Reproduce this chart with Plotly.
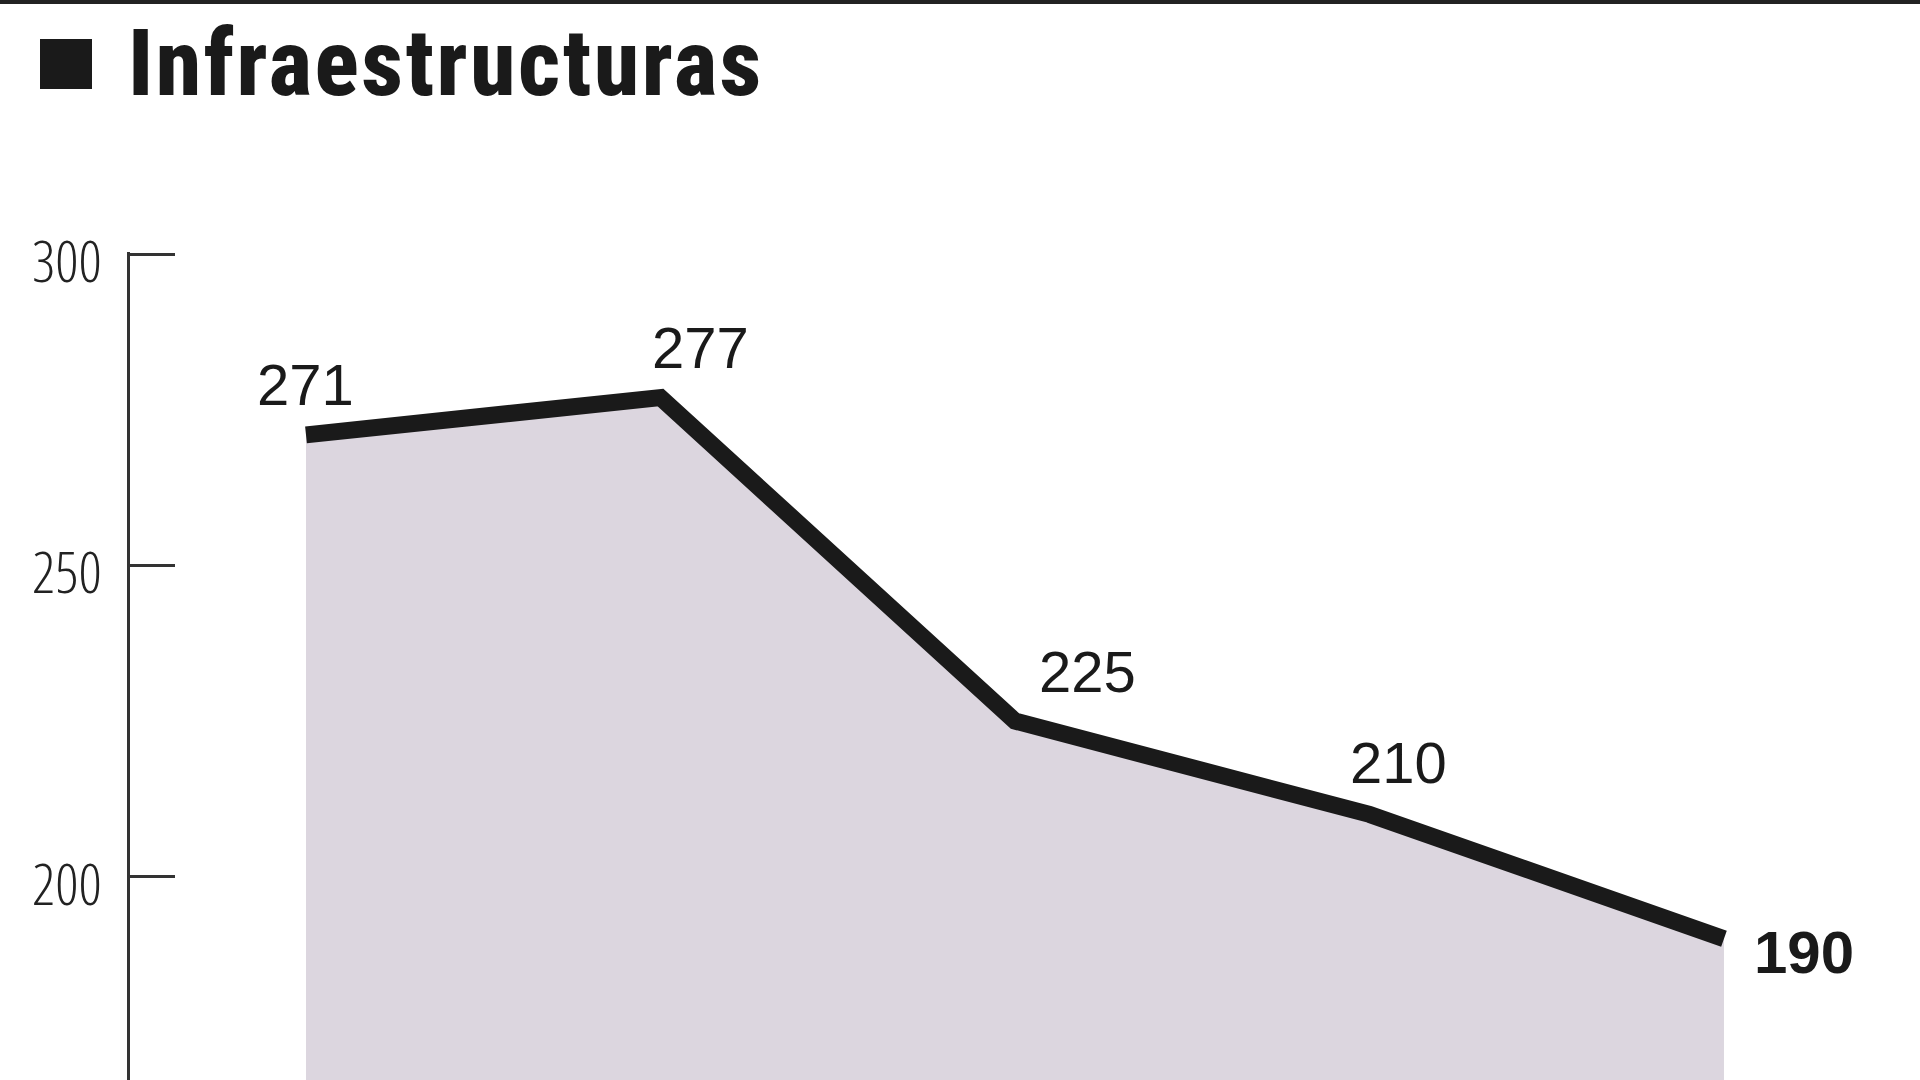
import plotly.graph_objects as go

# ---- data ----
periodos = [0, 1, 2, 3, 4]
valores = [271, 277, 225, 210, 190]
etiquetas = ["271", "277", "225", "210", "190"]
ticks_y = [200, 250, 300]
ticks_y_text = ["200", "250", "300"]
titulo = "Infraestructuras"

# ---- layout constants ----
W, H = 1920, 1080
ML, MR, MT, MB = 130, 0, 252, 0
PW, PH = W - ML - MR, H - MT - MB

def px_x(p):
    return (p - ML) / PW

def px_y(p):
    return 1 - (p - MT) / PH

INK = "#1a1a1a"
FILL = "#DCD6DF"

def condensed(t, stretch="75%", weight=None, spacing=None):
    st = f"font-stretch:{stretch}"
    if weight:
        st += f";font-weight:{weight}"
    if spacing:
        st += f";letter-spacing:{spacing}"
    return f"<span style='{st}'>{t}</span>"

fig = go.Figure()
fig.add_trace(go.Scatter(
    x=periodos, y=valores, mode="lines",
    line=dict(color=INK, width=17),
    fill="tozeroy", fillcolor=FILL,
    hoverinfo="skip", showlegend=False, cliponaxis=False,
))

# value labels: offsets (dx, dy) in pixels
offsets = [(-1, 50), (40, 50), (73, 50), (29, 52)]
for i, (xv, yv, t) in enumerate(zip(periodos, valores, etiquetas)):
    if i < len(valores) - 1:
        dx, dy = offsets[i]
        fig.add_annotation(x=xv, y=yv, text=t, showarrow=False,
                           xshift=dx, yshift=dy,
                           font=dict(family="Liberation Sans", size=58, color=INK))
    else:
        fig.add_annotation(x=xv, y=yv, text="<b>" + t + "</b>", showarrow=False,
                           xanchor="left", xshift=28, yshift=-14,
                           font=dict(family="Liberation Sans", size=60, color=INK))

# title
fig.add_annotation(xref="paper", yref="paper", x=px_x(126), y=px_y(64),
                   xanchor="left", yanchor="middle", showarrow=False,
                   text=condensed(titulo, "condensed", 800, "2.5px"),
                   font=dict(family="Roboto", size=92, color=INK))

# title square marker and top rule
fig.add_shape(type="rect", xref="paper", yref="paper",
              x0=px_x(40), x1=px_x(92), y0=px_y(89), y1=px_y(39),
              fillcolor=INK, line=dict(width=0))
fig.add_shape(type="rect", xref="paper", yref="paper",
              x0=px_x(0), x1=px_x(W), y0=px_y(4), y1=px_y(-2),
              fillcolor="#222222", line=dict(width=0))

fig.update_layout(
    width=W, height=H,
    margin=dict(l=ML, r=MR, t=MT, b=MB, pad=0),
    paper_bgcolor="white", plot_bgcolor="white",
    showlegend=False,
)
fig.update_xaxes(range=[-0.4965, 4.553], visible=False, fixedrange=True)
fig.update_yaxes(
    range=[167.3, 300.4], showgrid=False, zeroline=False,
    showline=True, linecolor="#333333", linewidth=3,
    ticks="inside", ticklen=45, tickwidth=3, tickcolor="#333333",
    tickvals=ticks_y, ticktext=[condensed(t, "75%", 300) for t in ticks_y_text],
    ticklabelstandoff=14, ticklabelshift=8,
    tickfont=dict(family="Open Sans", size=57, color="#222222"),
    fixedrange=True,
)

fig.write_html("out.html", config={"displayModeBar": False},
               post_script="document.body.style.margin='0px';document.body.style.padding='0px';")
